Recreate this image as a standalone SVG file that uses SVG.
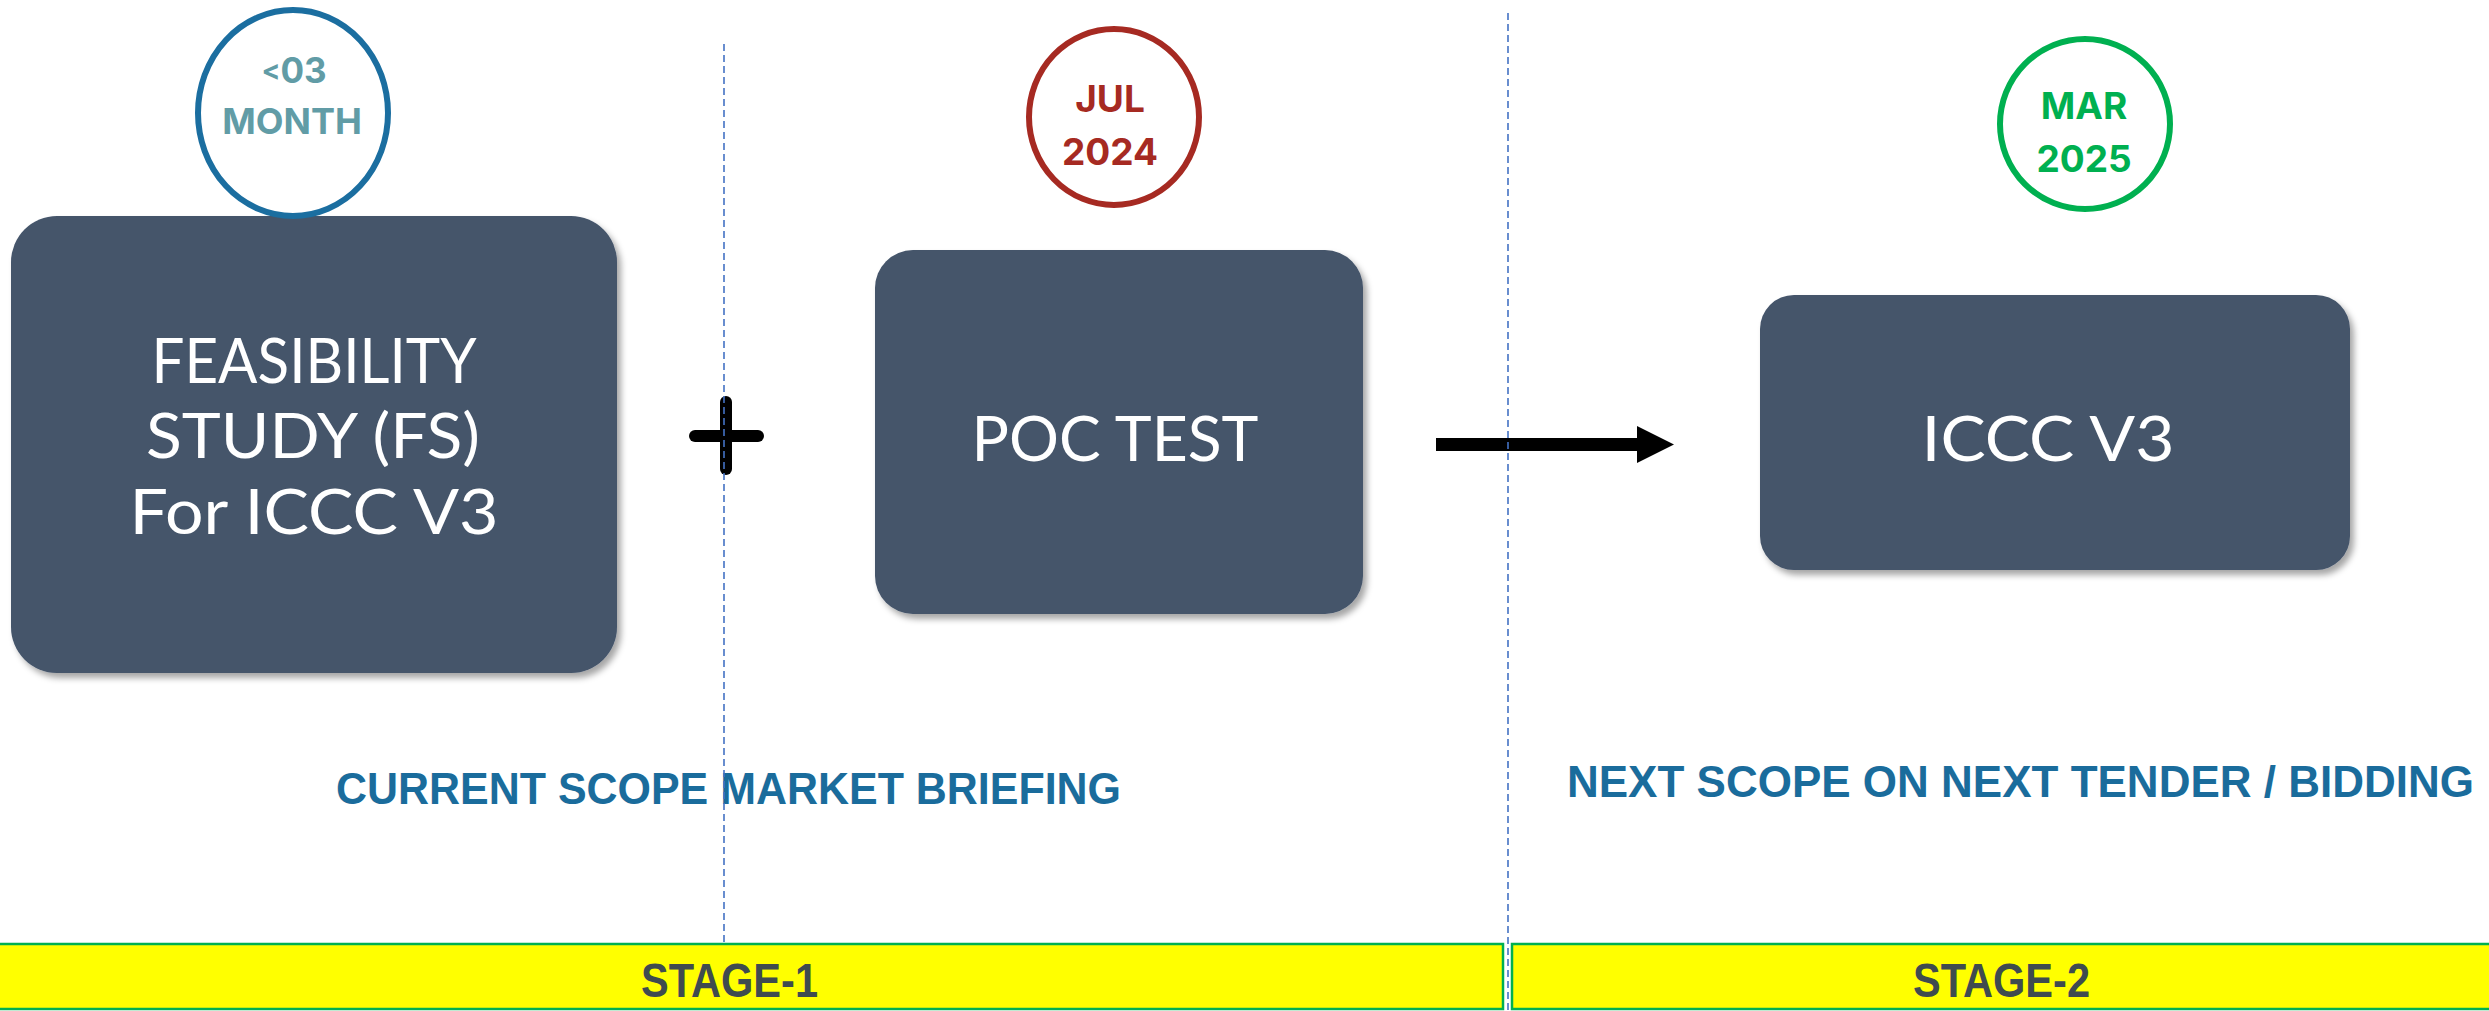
<svg xmlns="http://www.w3.org/2000/svg" width="2489" height="1011" viewBox="0 0 2489 1011">
<defs>
<style>
.box{fill:#44546a;filter:url(#sh)}
.bt{fill:#ffffff;font-family:Lato,"Open Sans",sans-serif;font-weight:400;font-size:62px;text-anchor:middle}
.ct{font-family:Inter,Roboto,sans-serif;font-weight:700;text-anchor:middle}
.scope{fill:#1a6c9c;font-family:"Liberation Sans",Arial,sans-serif;font-weight:700;font-size:45px}
.stage{fill:#3f4b4f;font-family:"Liberation Sans",Arial,sans-serif;font-weight:700;font-size:48px}
.bar{fill:#ffff00;stroke:#00b050;stroke-width:2.5}
.dash{stroke:#4472c4;stroke-width:1.6;stroke-dasharray:7 4;fill:none}
</style>
<filter id="sh" x="-10%" y="-10%" width="125%" height="125%">
<feDropShadow dx="4" dy="5" stdDeviation="3" flood-color="#000" flood-opacity="0.35"/>
</filter>
<marker id="ah" viewBox="0 0 10 10" refX="0" refY="5" markerWidth="37" markerHeight="37" markerUnits="userSpaceOnUse" orient="auto">
<path d="M0,0 L10,5 L0,10 Z" fill="#000"/>
</marker>
</defs>
<rect width="2489" height="1011" fill="#ffffff"/>

<g id="node-fs">
<rect class="box" x="11" y="216" width="606" height="457" rx="46"/>
<text class="bt" x="314" y="383" textLength="325" lengthAdjust="spacingAndGlyphs">FEASIBILITY</text>
<text class="bt" x="313" y="458" textLength="334" lengthAdjust="spacingAndGlyphs">STUDY (FS)</text>
<text class="bt" x="314" y="534" textLength="369" lengthAdjust="spacingAndGlyphs">For ICCC V3</text>
</g>

<g id="node-poc">
<rect class="box" x="875" y="250" width="488" height="364" rx="38"/>
<text class="bt" x="1115" y="461" textLength="287" lengthAdjust="spacingAndGlyphs">POC TEST</text>
</g>

<g id="node-iccc">
<rect class="box" x="1760" y="295" width="590" height="275" rx="34"/>
<text class="bt" x="2048" y="461" textLength="253" lengthAdjust="spacingAndGlyphs">ICCC V3</text>
</g>

<g id="badge-03month">
<ellipse cx="293" cy="113" rx="95" ry="103" fill="#fff" stroke="#1b6ea0" stroke-width="6"/>
<text class="ct" x="294" y="83" font-size="35" fill="#619ca6"><tspan font-size="28" dy="-3">&lt;</tspan><tspan dy="3">03</tspan></text>
<text class="ct" x="292" y="134" font-size="36" fill="#619ca6">MONTH</text>
</g>

<g id="badge-jul2024">
<ellipse cx="1114" cy="117" rx="85" ry="88" fill="#fff" stroke="#a62a22" stroke-width="6"/>
<text class="ct" x="1110" y="112" font-size="37" fill="#a62a22">JUL</text>
<text class="ct" x="1110" y="165" font-size="37" fill="#a62a22">2024</text>
</g>

<g id="badge-mar2025">
<ellipse cx="2085" cy="124" rx="85" ry="85" fill="#fff" stroke="#00b050" stroke-width="6"/>
<text class="ct" x="2084" y="119" font-size="37" fill="#00b050">MAR</text>
<text class="ct" x="2084" y="172" font-size="37" fill="#00b050">2025</text>
</g>

<g id="connectors">
<g id="plus">
<line x1="726" y1="402" x2="726" y2="469" stroke="#000" stroke-width="12" stroke-linecap="round"/>
<line x1="695" y1="436" x2="758" y2="436" stroke="#000" stroke-width="12" stroke-linecap="round"/>
</g>
<line id="arrow" x1="1436" y1="444.5" x2="1637" y2="444.5" stroke="#000" stroke-width="13" marker-end="url(#ah)"/>
</g>

<g id="labels">
<text class="scope" x="336" y="804" textLength="785" lengthAdjust="spacingAndGlyphs">CURRENT SCOPE MARKET BRIEFING</text>
<text class="scope" x="1567" y="797" textLength="907" lengthAdjust="spacingAndGlyphs">NEXT SCOPE ON NEXT TENDER / BIDDING</text>
</g>

<g id="stage-1">
<rect class="bar" x="-5" y="944" width="1508" height="65"/>
<text class="stage" x="641" y="997" textLength="177" lengthAdjust="spacingAndGlyphs">STAGE-1</text>
</g>
<g id="stage-2">
<rect class="bar" x="1512" y="944" width="985" height="65"/>
<text class="stage" x="1913" y="997" textLength="177" lengthAdjust="spacingAndGlyphs">STAGE-2</text>
</g>

<g id="dividers">
<line class="dash" x1="724" y1="44" x2="724" y2="943"/>
<line class="dash" x1="1508" y1="13" x2="1508" y2="1011"/>
</g>
</svg>
